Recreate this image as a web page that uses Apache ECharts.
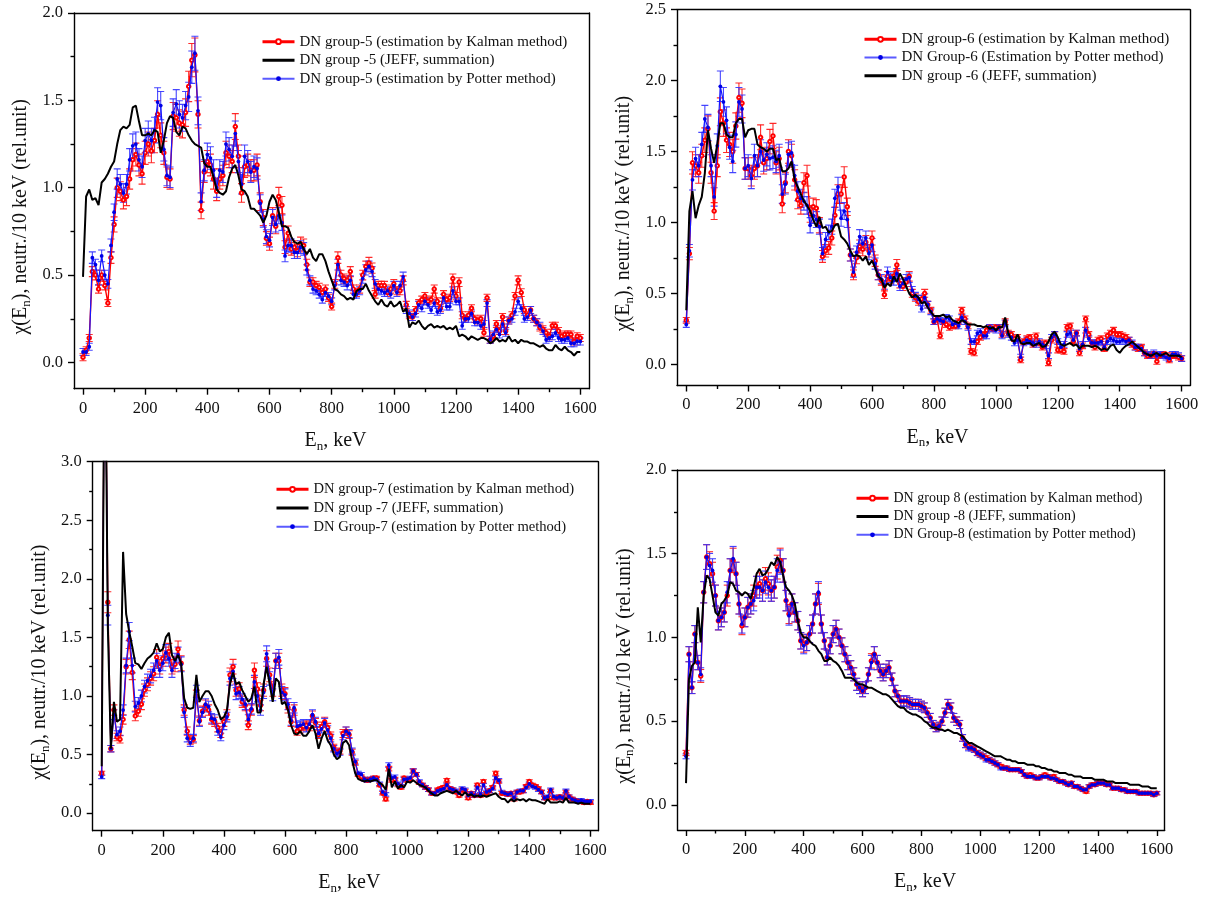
<!DOCTYPE html>
<html><head><meta charset="utf-8">
<script src="https://cdn.jsdelivr.net/npm/echarts@6/dist/echarts.min.js"></script>
<style>html,body{margin:0;padding:0;background:#fff}#c{width:1218px;height:899px}</style>
</head><body><div id="c"></div>
<script>
// ---------- DATA ----------
const energy = [0,10,20,30,40,50,60,70,80,90,100,110,120,130,140,150,160,170,180,190,200,210,220,230,240,250,260,270,280,290,300,310,320,330,340,350,360,370,380,390,400,410,420,430,440,450,460,470,480,490,500,510,520,530,540,550,560,570,580,590,600,610,620,630,640,650,660,670,680,690,700,710,720,730,740,750,760,770,780,790,800,810,820,830,840,850,860,870,880,890,900,910,920,930,940,950,960,970,980,990,1000,1010,1020,1030,1040,1050,1060,1070,1080,1090,1100,1110,1120,1130,1140,1150,1160,1170,1180,1190,1200,1210,1220,1230,1240,1250,1260,1270,1280,1290,1300,1310,1320,1330,1340,1350,1360,1370,1380,1390,1400,1410,1420,1430,1440,1450,1460,1470,1480,1490,1500,1510,1520,1530,1540,1550,1560,1570,1580,1590,1600];

const xTicks = [0,200,400,600,800,1000,1200,1400,1600];
const xMinorTicks = [100,300,500,700,900,1100,1300,1500];
const yTicks5 = [0,0.5,1,1.5,2];      const yMinor5 = [0.25,0.75,1.25,1.75];
const yTicks6 = [0,0.5,1,1.5,2,2.5];  const yMinor6 = [0.25,0.75,1.25,1.75,2.25];
const yTicks7 = [0,0.5,1,1.5,2,2.5,3];const yMinor7 = [0.25,0.75,1.25,1.75,2.25,2.75];
const yTicks8 = [0,0.5,1,1.5,2];      const yMinor8 = [0.25,0.75,1.25,1.75];

// Group 5
const kalman5 = [0.03,0.07,0.14,0.52,0.50,0.42,0.50,0.44,0.34,0.60,
0.79,1.00,0.98,0.93,0.95,1.05,1.16,1.19,1.13,1.08,
1.20,1.25,1.21,1.27,1.42,1.30,1.20,1.06,1.05,1.41,
1.40,1.37,1.36,1.43,1.58,1.73,1.76,1.42,0.87,1.09,
1.15,1.13,1.05,0.98,1.05,1.07,1.20,1.18,1.15,1.35,
1.18,0.97,1.12,1.13,1.10,1.10,1.13,0.92,0.83,0.71,
0.68,0.84,0.78,0.95,0.90,0.66,0.74,0.65,0.66,0.64,
0.68,0.67,0.56,0.46,0.46,0.44,0.43,0.40,0.42,0.37,
0.32,0.45,0.60,0.50,0.48,0.47,0.52,0.42,0.40,0.42,
0.50,0.55,0.57,0.54,0.39,0.44,0.44,0.44,0.40,0.42,
0.45,0.41,0.41,0.47,0.33,0.27,0.26,0.30,0.34,0.36,
0.38,0.35,0.36,0.42,0.35,0.31,0.39,0.36,0.37,0.48,
0.38,0.46,0.27,0.25,0.27,0.31,0.25,0.24,0.25,0.17,
0.37,0.13,0.15,0.22,0.18,0.26,0.18,0.24,0.27,0.38,
0.47,0.40,0.30,0.27,0.30,0.25,0.23,0.20,0.19,0.17,
0.15,0.21,0.21,0.18,0.15,0.16,0.16,0.16,0.12,0.15,
0.14];
const potter5 = [0.06,0.06,0.09,0.60,0.56,0.47,0.61,0.50,0.45,0.67,
0.86,1.05,1.02,0.97,1.02,1.16,1.24,1.25,1.16,1.12,
1.27,1.31,1.27,1.33,1.49,1.47,1.22,1.07,1.06,1.43,
1.48,1.42,1.40,1.47,1.52,1.69,1.77,1.44,0.92,1.10,
1.19,1.17,1.10,1.00,1.10,1.09,1.25,1.22,1.18,1.31,
1.15,1.02,1.18,1.15,1.09,1.12,1.11,0.91,0.82,0.72,
0.70,0.83,0.79,0.84,0.80,0.61,0.67,0.67,0.63,0.63,
0.66,0.65,0.53,0.47,0.42,0.41,0.39,0.36,0.40,0.38,
0.35,0.44,0.56,0.47,0.46,0.44,0.47,0.39,0.39,0.41,
0.48,0.53,0.55,0.52,0.45,0.42,0.41,0.40,0.41,0.39,
0.44,0.40,0.44,0.49,0.30,0.28,0.26,0.28,0.33,0.31,
0.35,0.33,0.30,0.34,0.29,0.30,0.37,0.32,0.32,0.41,
0.35,0.35,0.21,0.25,0.25,0.28,0.23,0.23,0.21,0.22,
0.34,0.13,0.16,0.19,0.16,0.22,0.17,0.24,0.25,0.29,
0.35,0.31,0.25,0.26,0.30,0.25,0.23,0.21,0.18,0.13,
0.14,0.15,0.17,0.14,0.13,0.13,0.14,0.11,0.11,0.12,
0.12];
const jeff5 = [0.49,0.95,0.99,0.93,0.94,0.90,1.03,1.05,1.08,1.12,
1.15,1.25,1.33,1.35,1.34,1.36,1.46,1.47,1.38,1.30,
1.30,1.31,1.30,1.33,1.32,1.20,1.27,1.37,1.41,1.40,
1.32,1.30,1.35,1.34,1.30,1.27,1.25,1.24,1.23,1.14,
1.12,1.12,1.06,0.99,0.97,0.96,0.98,1.06,1.11,1.13,
1.07,0.99,0.98,0.95,0.88,0.88,0.86,0.84,0.80,0.84,
0.92,0.96,0.93,0.86,0.78,0.78,0.77,0.72,0.69,0.68,
0.69,0.65,0.62,0.65,0.60,0.58,0.62,0.62,0.58,0.52,
0.47,0.42,0.41,0.39,0.38,0.36,0.37,0.36,0.41,0.42,
0.42,0.45,0.41,0.38,0.35,0.33,0.36,0.33,0.32,0.35,
0.32,0.33,0.35,0.29,0.31,0.20,0.23,0.22,0.24,0.21,
0.19,0.21,0.22,0.20,0.21,0.20,0.21,0.19,0.20,0.19,
0.21,0.15,0.16,0.15,0.13,0.15,0.14,0.13,0.14,0.14,
0.13,0.11,0.12,0.14,0.12,0.13,0.12,0.15,0.12,0.13,
0.11,0.13,0.12,0.12,0.11,0.11,0.10,0.09,0.10,0.08,
0.07,0.07,0.10,0.08,0.07,0.09,0.07,0.06,0.04,0.06,
0.06];

// Group 6
const kalman6 = [0.31,0.78,1.42,1.40,1.35,1.47,1.58,1.66,1.35,1.08,
1.40,1.78,1.70,1.58,1.55,1.50,1.68,1.88,1.84,1.38,
1.38,1.33,1.38,1.40,1.60,1.42,1.45,1.57,1.61,1.42,
1.45,1.13,1.28,1.50,1.47,1.30,1.16,1.12,1.28,1.33,
1.06,1.11,1.10,0.98,0.76,0.80,0.82,0.89,1.05,1.20,
1.20,1.32,1.11,0.77,0.63,0.75,0.83,0.81,0.86,0.80,
0.89,0.73,0.63,0.59,0.49,0.62,0.60,0.62,0.70,0.57,
0.55,0.58,0.62,0.50,0.47,0.44,0.46,0.50,0.42,0.38,
0.30,0.32,0.20,0.30,0.28,0.26,0.27,0.27,0.30,0.38,
0.32,0.27,0.09,0.08,0.16,0.19,0.21,0.24,0.26,0.25,
0.26,0.26,0.21,0.30,0.22,0.21,0.18,0.19,0.03,0.16,
0.18,0.19,0.14,0.20,0.15,0.12,0.15,0.01,0.17,0.21,
0.10,0.10,0.09,0.26,0.27,0.16,0.22,0.08,0.13,0.32,
0.21,0.15,0.12,0.17,0.18,0.11,0.20,0.22,0.24,0.21,
0.21,0.20,0.19,0.17,0.14,0.12,0.11,0.12,0.08,0.06,
0.06,0.07,0.02,0.06,0.07,0.06,0.03,0.06,0.06,0.05,
0.04];
const potter6 = [0.28,0.80,1.30,1.45,1.40,1.55,1.73,1.67,1.40,1.18,
1.54,1.96,1.85,1.72,1.53,1.43,1.62,1.85,1.80,1.38,
1.40,1.31,1.47,1.40,1.50,1.44,1.48,1.45,1.46,1.43,
1.47,1.20,1.27,1.48,1.49,1.33,1.22,1.17,1.15,1.12,
0.98,1.05,1.02,0.97,0.78,0.88,0.93,0.97,1.17,1.25,
1.03,1.08,1.02,0.77,0.65,0.79,0.90,0.85,0.89,0.78,
0.84,0.71,0.63,0.60,0.56,0.65,0.61,0.59,0.64,0.55,
0.57,0.60,0.61,0.52,0.48,0.46,0.39,0.47,0.42,0.37,
0.30,0.32,0.31,0.30,0.33,0.32,0.28,0.29,0.27,0.33,
0.30,0.26,0.16,0.16,0.22,0.23,0.20,0.20,0.26,0.25,
0.24,0.26,0.20,0.29,0.21,0.19,0.15,0.17,0.05,0.15,
0.17,0.16,0.15,0.14,0.16,0.14,0.13,0.06,0.19,0.21,
0.16,0.12,0.14,0.21,0.22,0.17,0.22,0.11,0.14,0.24,
0.18,0.15,0.15,0.15,0.16,0.12,0.16,0.18,0.17,0.16,
0.16,0.17,0.16,0.17,0.15,0.12,0.12,0.11,0.08,0.07,
0.06,0.08,0.06,0.07,0.06,0.05,0.04,0.07,0.07,0.06,
0.04];
const jeff6 = [0.38,1.08,1.22,1.03,1.12,1.18,1.35,1.65,1.52,1.42,
1.55,1.70,1.70,1.62,1.60,1.60,1.70,1.73,1.73,1.60,
1.65,1.66,1.66,1.55,1.53,1.52,1.50,1.52,1.52,1.44,
1.45,1.36,1.36,1.38,1.43,1.30,1.25,1.20,1.15,1.12,
1.08,1.02,0.97,1.04,0.96,0.97,0.93,0.94,0.98,0.99,
0.90,0.88,0.85,0.80,0.76,0.77,0.76,0.73,0.76,0.70,
0.73,0.68,0.62,0.60,0.54,0.57,0.55,0.62,0.58,0.64,
0.60,0.55,0.50,0.47,0.49,0.47,0.43,0.44,0.40,0.37,
0.34,0.34,0.34,0.35,0.33,0.34,0.31,0.30,0.29,0.31,
0.30,0.28,0.28,0.28,0.27,0.27,0.26,0.27,0.25,0.26,
0.24,0.26,0.26,0.33,0.22,0.17,0.16,0.21,0.15,0.14,
0.15,0.15,0.13,0.14,0.15,0.12,0.13,0.16,0.21,0.23,
0.19,0.14,0.13,0.14,0.15,0.13,0.14,0.11,0.13,0.13,
0.13,0.12,0.13,0.12,0.10,0.11,0.10,0.13,0.14,0.10,
0.08,0.11,0.13,0.14,0.16,0.14,0.12,0.10,0.08,0.07,
0.06,0.07,0.08,0.06,0.07,0.08,0.06,0.06,0.06,0.06,
0.05];

// Group 7 (10 keV point lies above the plotted range)
const kalman7 = [0.34,4.50,1.80,0.55,0.88,0.65,0.63,0.80,1.25,1.48,
1.20,0.83,0.87,0.93,1.05,1.10,1.15,1.19,1.33,1.25,
1.32,1.35,1.38,1.25,1.27,1.40,1.28,0.88,0.70,0.62,
0.63,1.00,0.79,0.87,0.92,0.88,0.80,0.78,0.73,0.68,
0.78,0.84,1.18,1.25,1.05,1.06,0.95,0.92,0.75,0.88,
1.22,1.06,0.92,1.05,1.32,1.18,1.05,1.30,1.30,1.05,
1.02,0.90,0.78,0.88,0.70,0.72,0.74,0.75,0.74,0.83,
0.77,0.67,0.74,0.78,0.73,0.66,0.56,0.52,0.53,0.68,
0.70,0.67,0.52,0.43,0.33,0.31,0.29,0.28,0.29,0.30,
0.30,0.24,0.17,0.12,0.38,0.28,0.29,0.24,0.22,0.30,
0.28,0.29,0.36,0.33,0.26,0.24,0.22,0.20,0.17,0.17,
0.20,0.21,0.22,0.28,0.21,0.20,0.18,0.15,0.20,0.19,
0.13,0.17,0.15,0.24,0.15,0.27,0.17,0.19,0.22,0.34,
0.27,0.17,0.17,0.16,0.17,0.12,0.18,0.18,0.19,0.23,
0.27,0.24,0.23,0.21,0.18,0.13,0.13,0.19,0.13,0.13,
0.14,0.13,0.18,0.14,0.12,0.11,0.10,0.10,0.09,0.10,
0.09];
const potter7 = [0.31,4.50,1.69,0.55,0.84,0.67,0.70,0.88,1.26,1.55,
1.26,0.91,0.94,1.00,1.08,1.13,1.17,1.22,1.30,1.22,
1.28,1.37,1.32,1.22,1.30,1.35,1.27,0.86,0.64,0.60,
0.64,1.04,0.78,0.86,0.93,0.91,0.81,0.80,0.70,0.65,
0.75,0.82,1.15,1.21,1.02,1.03,0.97,0.93,0.80,0.89,
1.12,1.00,0.88,1.03,1.36,1.15,1.01,1.30,1.33,1.03,
1.01,0.93,0.79,0.90,0.74,0.75,0.76,0.73,0.76,0.84,
0.78,0.68,0.72,0.77,0.71,0.64,0.55,0.51,0.52,0.66,
0.70,0.68,0.53,0.44,0.34,0.33,0.29,0.28,0.29,0.30,
0.29,0.25,0.18,0.16,0.41,0.30,0.31,0.25,0.23,0.29,
0.29,0.30,0.36,0.33,0.27,0.24,0.22,0.20,0.17,0.17,
0.19,0.20,0.21,0.24,0.21,0.20,0.19,0.17,0.21,0.20,
0.15,0.17,0.15,0.22,0.16,0.24,0.18,0.19,0.21,0.30,
0.28,0.18,0.17,0.16,0.17,0.13,0.18,0.19,0.19,0.22,
0.25,0.23,0.22,0.20,0.18,0.13,0.14,0.20,0.14,0.13,
0.14,0.13,0.19,0.14,0.12,0.11,0.10,0.11,0.10,0.10,
0.10];
const jeff7 = [0.40,4.50,1.60,0.55,0.95,0.78,0.80,2.23,1.70,1.55,
1.42,1.28,1.27,1.23,1.28,1.32,1.34,1.37,1.45,1.38,
1.40,1.50,1.54,1.35,1.30,1.35,1.28,0.98,0.90,0.89,
0.90,1.18,0.95,1.00,1.04,1.04,1.00,0.93,0.88,0.80,
0.82,0.88,1.10,1.20,1.10,1.12,1.05,1.00,0.95,0.98,
1.08,0.86,0.86,1.10,1.25,1.10,0.95,1.15,1.12,0.93,
0.95,0.88,0.75,0.68,0.67,0.70,0.66,0.66,0.70,0.75,
0.68,0.55,0.64,0.70,0.62,0.58,0.50,0.46,0.48,0.60,
0.62,0.58,0.45,0.34,0.29,0.28,0.27,0.28,0.27,0.28,
0.28,0.26,0.24,0.20,0.38,0.22,0.27,0.21,0.24,0.22,
0.27,0.26,0.28,0.26,0.24,0.23,0.22,0.19,0.17,0.15,
0.15,0.17,0.18,0.19,0.18,0.17,0.19,0.17,0.15,0.18,
0.15,0.16,0.14,0.15,0.14,0.15,0.14,0.15,0.16,0.17,
0.14,0.12,0.12,0.09,0.12,0.10,0.12,0.11,0.12,0.10,
0.12,0.11,0.11,0.10,0.09,0.08,0.12,0.09,0.09,0.09,
0.10,0.09,0.13,0.09,0.09,0.09,0.08,0.09,0.08,0.08,
0.08];

// Group 8
const kalman8 = [0.31,0.90,0.70,1.02,0.85,0.77,1.27,1.48,1.44,1.38,
1.25,1.10,1.12,1.15,1.25,1.40,1.46,1.38,1.20,1.07,
1.12,1.18,1.20,1.25,1.30,1.32,1.28,1.35,1.32,1.28,
1.30,1.42,1.46,1.40,1.22,1.14,1.20,1.15,1.10,0.98,
0.96,0.97,1.02,1.08,1.20,1.26,1.08,0.98,0.88,0.95,
1.02,1.05,1.00,0.95,0.90,0.85,0.82,0.78,0.72,0.70,
0.68,0.70,0.78,0.86,0.90,0.85,0.80,0.78,0.80,0.82,
0.75,0.68,0.65,0.62,0.62,0.62,0.61,0.60,0.60,0.60,
0.59,0.58,0.55,0.52,0.48,0.46,0.47,0.50,0.55,0.60,
0.58,0.52,0.50,0.48,0.40,0.36,0.35,0.34,0.33,0.31,
0.30,0.29,0.28,0.27,0.26,0.25,0.24,0.23,0.22,0.22,
0.21,0.21,0.21,0.21,0.20,0.18,0.17,0.18,0.17,0.16,
0.16,0.17,0.18,0.17,0.16,0.17,0.15,0.14,0.14,0.13,
0.12,0.13,0.11,0.11,0.10,0.09,0.08,0.11,0.12,0.12,
0.13,0.13,0.13,0.12,0.12,0.10,0.10,0.10,0.09,0.09,
0.08,0.08,0.08,0.08,0.07,0.07,0.07,0.07,0.07,0.06,
0.07];
const potter8 = [0.29,0.90,0.70,1.02,0.85,0.78,1.27,1.48,1.43,1.40,
1.25,1.10,1.12,1.15,1.27,1.40,1.47,1.38,1.20,1.08,
1.12,1.18,1.20,1.22,1.30,1.30,1.28,1.33,1.30,1.28,
1.30,1.40,1.45,1.40,1.22,1.13,1.20,1.15,1.10,0.98,
0.95,0.97,1.02,1.08,1.20,1.27,1.08,0.98,0.88,0.95,
1.02,1.05,1.00,0.95,0.90,0.85,0.82,0.78,0.72,0.70,
0.68,0.70,0.78,0.85,0.90,0.85,0.80,0.78,0.80,0.82,
0.75,0.68,0.65,0.62,0.62,0.62,0.61,0.60,0.60,0.60,
0.59,0.58,0.55,0.52,0.48,0.46,0.47,0.50,0.55,0.60,
0.58,0.52,0.50,0.48,0.40,0.36,0.34,0.34,0.33,0.31,
0.30,0.29,0.27,0.27,0.26,0.25,0.24,0.22,0.22,0.22,
0.21,0.21,0.21,0.21,0.20,0.18,0.17,0.17,0.17,0.16,
0.16,0.17,0.17,0.17,0.16,0.16,0.15,0.14,0.14,0.13,
0.12,0.13,0.11,0.11,0.10,0.09,0.09,0.11,0.12,0.12,
0.13,0.13,0.13,0.12,0.12,0.10,0.10,0.10,0.09,0.09,
0.08,0.08,0.08,0.08,0.07,0.07,0.07,0.07,0.07,0.06,
0.07];
const jeff8 = [0.13,0.75,0.83,0.85,1.18,0.97,1.25,1.37,1.35,1.25,
1.15,1.13,1.20,1.22,1.25,1.33,1.32,1.28,1.27,1.25,
1.27,1.26,1.23,1.30,1.38,1.41,1.37,1.38,1.41,1.45,
1.43,1.48,1.45,1.37,1.30,1.28,1.25,1.20,1.10,1.03,
1.00,1.00,0.98,0.96,0.95,0.92,0.90,0.86,0.86,0.88,
0.86,0.85,0.83,0.80,0.76,0.76,0.76,0.75,0.73,0.72,
0.72,0.71,0.70,0.70,0.69,0.68,0.67,0.66,0.66,0.65,
0.63,0.61,0.59,0.58,0.58,0.56,0.55,0.54,0.54,0.53,
0.52,0.50,0.49,0.47,0.46,0.46,0.45,0.45,0.44,0.45,
0.44,0.43,0.43,0.42,0.41,0.39,0.37,0.37,0.36,0.35,
0.34,0.33,0.32,0.31,0.30,0.29,0.29,0.29,0.28,0.27,
0.27,0.26,0.26,0.25,0.25,0.25,0.24,0.24,0.24,0.23,
0.23,0.22,0.22,0.21,0.21,0.20,0.20,0.19,0.19,0.19,
0.18,0.18,0.17,0.17,0.17,0.16,0.16,0.16,0.16,0.15,
0.15,0.15,0.15,0.14,0.14,0.14,0.13,0.13,0.13,0.13,
0.13,0.12,0.12,0.12,0.12,0.11,0.11,0.11,0.10,0.10,
0.10];

const errFraction = [0.055, 0.055, 0.05, 0.05];
const errFloor = [0.02, 0.02, 0.015, 0.01];

const names5 = {k:'DN group-5 (estimation by Kalman method)', j:'DN group -5 (JEFF, summation)', p:'DN group-5 (estimation by Potter method)'};
const names6 = {k:'DN group-6 (estimation by Kalman method)', p:'DN Group-6 (Estimation by Potter method)', j:'DN group -6 (JEFF, summation)'};
const names7 = {k:'DN group-7 (estimation by Kalman method)', j:'DN group -7 (JEFF, summation)', p:'DN Group-7 (estimation by Potter method)'};
const names8 = {k:'DN group 8 (estimation by Kalman method)', j:'DN group -8 (JEFF, summation)', p:'DN Group-8 (estimation by Potter method)'};

// ---------- LAYOUT / STYLE ----------
const FONT = "'Liberation Serif','Times New Roman',serif";
const layout = [
  {left:74, top:13, width:515, height:375.7, xMin:-29, xMax:1628, yMin:-0.15, yMax:2.0, lgLeft:261, lgTop:34.2, lgGap:3.5, lgFont:15},
  {left:677, top:9.7, width:513, height:375.8, xMin:-30, xMax:1627, yMin:-0.15, yMax:2.5, lgLeft:863, lgTop:31.8, lgGap:3.2, lgFont:15},
  {left:92.7, top:461.7, width:505.3, height:369, xMin:-29.5, xMax:1625, yMin:-0.15, yMax:3.0, lgLeft:275, lgTop:481.8, lgGap:3.7, lgFont:14.6},
  {left:677.5, top:470, width:487.2, height:360, xMin:-29, xMax:1627, yMin:-0.15, yMax:2.0, lgLeft:855, lgTop:490.7, lgGap:3.3, lgFont:14}
];
const panels = [
  {k:kalman5, p:potter5, j:jeff5, n:names5, order:['k','j','p'], yt:yTicks5, ym:yMinor5},
  {k:kalman6, p:potter6, j:jeff6, n:names6, order:['k','p','j'], yt:yTicks6, ym:yMinor6},
  {k:kalman7, p:potter7, j:jeff7, n:names7, order:['k','j','p'], yt:yTicks7, ym:yMinor7},
  {k:kalman8, p:potter8, j:jeff8, n:names8, order:['k','j','p'], yt:yTicks8, ym:yMinor8}
];

const AX = {color:'#000', width:1.4};
const labelStyle = {fontFamily:FONT, fontSize:16.5, color:'#111'};
const richName = {
  a:{fontFamily:FONT, fontSize:20, color:'#111'},
  s:{fontFamily:FONT, fontSize:13, color:'#111', padding:[11,0,0,0]}
};

const grid=[], xAxis=[], yAxis=[], series=[], legend=[];

function errSeries(i, vals, color){
  const frac = errFraction[i], floor = errFloor[i];
  return {
    type:'custom', xAxisIndex:3*i, yAxisIndex:3*i, clip:true, silent:true, z:2,
    data: energy.map((e,j)=>[e, vals[j], Math.max(vals[j]*frac, floor)]),
    renderItem: function(params, api){
      const x=api.value(0), y=api.value(1), e=api.value(2);
      const lo=api.coord([x,y-e]), hi=api.coord([x,y+e]);
      const w=3.5, st={stroke:color, lineWidth:1.1};
      return {type:'group', children:[
        {type:'line', shape:{x1:lo[0],y1:lo[1],x2:hi[0],y2:hi[1]}, style:st},
        {type:'line', shape:{x1:lo[0]-w,y1:lo[1],x2:lo[0]+w,y2:lo[1]}, style:st},
        {type:'line', shape:{x1:hi[0]-w,y1:hi[1],x2:hi[0]+w,y2:hi[1]}, style:st}
      ]};
    }
  };
}

panels.forEach((P,i)=>{
  const L = layout[i];
  grid.push({left:L.left, top:L.top, width:L.width, height:L.height, containLabel:false});
  xAxis.push({gridIndex:i, type:'value', min:L.xMin, max:L.xMax, position:'bottom',
    axisLine:{show:true, onZero:false, lineStyle:AX},
    axisTick:{show:true, inside:false, length:6, customValues:xTicks, lineStyle:AX},
    axisLabel:{show:true, customValues:xTicks, margin:11, formatter:v=>String(Math.round(v)), ...labelStyle},
    splitLine:{show:false},
    name:'{a|E}{s|n}{a|, keV}', nameLocation:'middle', nameGap:40,
    nameTextStyle:{fontFamily:FONT, fontSize:20, color:'#111', rich:richName, padding:[0,0,0,8]}
  });
  xAxis.push({gridIndex:i, type:'value', min:L.xMin, max:L.xMax, position:'bottom',
    axisLine:{show:false, onZero:false}, axisTick:{show:true, length:3.5, customValues:xMinorTicks, lineStyle:AX},
    axisLabel:{show:false}, splitLine:{show:false}});
  xAxis.push({gridIndex:i, type:'value', min:L.xMin, max:L.xMax, position:'top',
    axisLine:{show:true, onZero:false, lineStyle:AX}, axisTick:{show:false}, axisLabel:{show:false}, splitLine:{show:false}});
  yAxis.push({gridIndex:i, type:'value', min:L.yMin, max:L.yMax, position:'left',
    axisLine:{show:true, onZero:false, lineStyle:AX},
    axisTick:{show:true, inside:false, length:6, customValues:P.yt, lineStyle:AX},
    axisLabel:{show:true, customValues:P.yt, margin:11, formatter:v=>v.toFixed(1), ...labelStyle},
    splitLine:{show:false},
    name:'{a|χ(E}{s|n}{a|), neutr./10 keV (rel.unit)}', nameLocation:'middle', nameGap:41, nameRotate:90,
    nameTextStyle:{fontFamily:FONT, fontSize:20, color:'#111', rich:richName, padding:[0,32,0,0]}
  });
  yAxis.push({gridIndex:i, type:'value', min:L.yMin, max:L.yMax, position:'left',
    axisLine:{show:false, onZero:false}, axisTick:{show:true, length:3.5, customValues:P.ym, lineStyle:AX},
    axisLabel:{show:false}, splitLine:{show:false}});
  yAxis.push({gridIndex:i, type:'value', min:L.yMin, max:L.yMax, position:'right',
    axisLine:{show:true, onZero:false, lineStyle:AX}, axisTick:{show:false}, axisLabel:{show:false}, splitLine:{show:false}});

  series.push(errSeries(i, P.k, 'rgba(255,20,20,0.9)'));
  series.push({type:'line', name:P.n.k, xAxisIndex:3*i, yAxisIndex:3*i, z:3,
    data: energy.map((e,j)=>[e, P.k[j]]),
    symbol:'emptyCircle', symbolSize:3.5, showSymbol:true,
    lineStyle:{color:'#ff0000', width:1.4}, itemStyle:{color:'#ff0000', borderWidth:0.9}});
  series.push(errSeries(i, P.p, 'rgba(50,50,255,0.9)'));
  series.push({type:'line', name:P.n.p, xAxisIndex:3*i, yAxisIndex:3*i, z:4,
    data: energy.map((e,j)=>[e, P.p[j]]),
    symbol:'circle', symbolSize:3.8, showSymbol:true,
    lineStyle:{color:'#1414ff', width:1.2}, itemStyle:{color:'#0000e6'}});
  series.push({type:'line', name:P.n.j, xAxisIndex:3*i, yAxisIndex:3*i, z:5,
    data: energy.map((e,j)=>[e, P.j[j]]),
    symbol:'none', showSymbol:false,
    lineStyle:{color:'#000', width:2}, itemStyle:{color:'#000'}});

  legend.push({orient:'vertical', left:L.lgLeft, top:L.lgTop, itemGap:L.lgGap, itemWidth:32, itemHeight:6,
    padding:0, selectedMode:false,
    textStyle:{fontFamily:FONT, fontSize:L.lgFont, color:'#111', lineHeight:15},
    data: P.order.map(key=>{
      const item = {name:P.n[key], lineStyle:{width: key==='p'?2:3}};
      if (key==='j') item.itemStyle = {opacity:0};
      if (key==='p') item.lineStyle.color = '#5a5aff';
      return item;
    })
  });
});

const chart = echarts.init(document.getElementById('c'), null, {renderer:'canvas'});
chart.setOption({animation:false, backgroundColor:'#fff', grid, xAxis, yAxis, series, legend});
</script></body></html>
